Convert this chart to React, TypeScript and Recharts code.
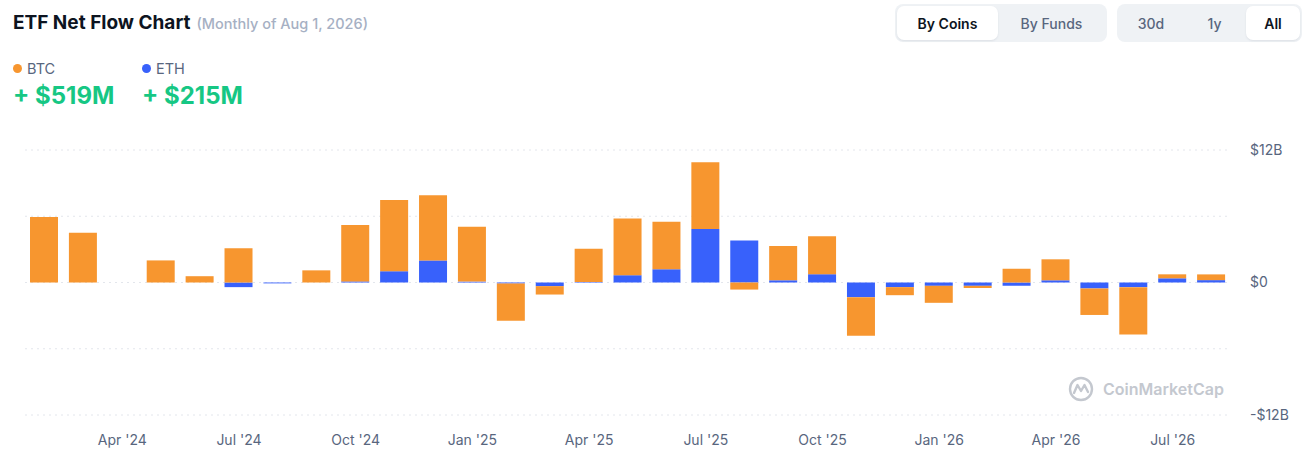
import React from "react";
import { BarChart, Bar, XAxis, YAxis, CartesianGrid } from "recharts";

// Monthly net flows, in billions of USD
const months = [
  "Feb '24", "Mar '24", "Apr '24", "May '24", "Jun '24", "Jul '24", "Aug '24", "Sep '24",
  "Oct '24", "Nov '24", "Dec '24", "Jan '25", "Feb '25", "Mar '25", "Apr '25", "May '25",
  "Jun '25", "Jul '25", "Aug '25", "Sep '25", "Oct '25", "Nov '25", "Dec '25", "Jan '26",
  "Feb '26", "Mar '26", "Apr '26", "May '26", "Jun '26", "Jul '26", "Aug '26",
];

const btcFlows = [
  5.93, 4.5, 0, 2.0, 0.57, 3.1, 0, 1.1,
  5.1, 6.46, 5.9, 4.96, -3.38, -0.76, 3.0, 5.14,
  4.3, 6.05, -0.64, 3.1, 3.45, -3.5, -0.73, -1.54,
  -0.2, 1.24, 1.9, -2.4, -4.3, 0.36, 0.519,
];

const ethFlows = [
  0, 0, 0, 0, 0, -0.42, -0.08, 0,
  0.1, 1.02, 2.0, 0.08, -0.08, -0.33, 0.05, 0.66,
  1.2, 4.85, 3.8, 0.2, 0.75, -1.33, -0.42, -0.3,
  -0.3, -0.3, 0.2, -0.54, -0.42, 0.38, 0.215,
];

const xTicks = ["Apr '24", "Jul '24", "Oct '24", "Jan '25", "Apr '25", "Jul '25", "Oct '25", "Jan '26", "Apr '26", "Jul '26"];
const yTicks = [-12, -6, 0, 6, 12];

const BTC_COLOR = "#F7962F";
const ETH_COLOR = "#3861FB";
const GREEN = "#16C784";
const GRAY = "#58667E";

const data = months.map((m, i) => ({ month: m, btc: btcFlows[i], eth: ethFlows[i] }));

const formatY = (v: number) => {
  if (v === 12) return "$12B";
  if (v === -12) return "-$12B";
  if (v === 0) return "$0";
  return "";
};

const Toggle = ({ items, active, left, width }: { items: { label: string; w: number }[]; active: number; left: number; width: number }) => (
  <div
    style={{
      position: "absolute",
      left,
      top: 4,
      width,
      height: 38,
      background: "#EFF2F5",
      borderRadius: 8,
      display: "flex",
      alignItems: "center",
      padding: "0 2px",
      boxSizing: "border-box",
    }}
  >
    {items.map((it, i) => (
      <div
        key={it.label}
        style={{
          width: it.w,
          height: 34,
          borderRadius: 7,
          background: i === active ? "#fff" : "transparent",
          boxShadow: i === active ? "0 1px 2px rgba(88,102,126,0.12)" : "none",
          display: "flex",
          alignItems: "center",
          justifyContent: "center",
          fontSize: 14,
          fontWeight: i === active ? 600 : 500,
          color: i === active ? "#0D1421" : GRAY,
        }}
      >
        {it.label}
      </div>
    ))}
  </div>
);

export default function App() {
  return (
    <div
      style={{
        position: "absolute",
        left: 0,
        top: 0,
        width: 1312,
        height: 464,
        background: "#fff",
        fontFamily: "Inter, 'Noto Sans', sans-serif",
        overflow: "hidden",
      }}
    >
      <BarChart
        width={1312}
        height={464}
        data={data}
        stackOffset="sign"
        barSize={28}
        margin={{ top: 150, right: 11, bottom: 9, left: 25 }}
      >
        <CartesianGrid vertical={false} stroke="#E3E6EC" strokeDasharray="2 4" />
        <XAxis
          dataKey="month"
          ticks={xTicks}
          axisLine={false}
          tickLine={false}
          height={40}
          tickMargin={14}
          tick={{ fill: GRAY, fontSize: 14 }}
        />
        <YAxis
          orientation="right"
          domain={[-12, 12]}
          ticks={yTicks}
          tickFormatter={formatY}
          axisLine={false}
          tickLine={false}
          width={70}
          tickMargin={13}
          tick={{ fill: GRAY, fontSize: 14, textAnchor: "start" }}
        />
        <Bar dataKey="eth" stackId="a" fill={ETH_COLOR} isAnimationActive={false} />
        <Bar dataKey="btc" stackId="a" fill={BTC_COLOR} isAnimationActive={false} />
      </BarChart>

      {/* header */}
      <div style={{ position: "absolute", left: 13, top: 10, display: "flex", alignItems: "baseline", whiteSpace: "nowrap" }}>
        <span style={{ fontSize: 19, fontWeight: 700, color: "#0D1421", lineHeight: "26px" }}>ETF Net Flow Chart</span>
        <span style={{ fontSize: 14.5, fontWeight: 500, color: "#A6B0C3", marginLeft: 6 }}>(Monthly of Aug 1, 2026)</span>
      </div>

      <div style={{ position: "absolute", left: 13, top: 58, display: "flex", gap: 0 }}>
        <div style={{ width: 129 }}>
          <div style={{ display: "flex", alignItems: "center", fontSize: 14.5, color: GRAY, height: 20 }}>
            <span style={{ width: 9, height: 9, borderRadius: "50%", background: BTC_COLOR, marginRight: 5 }} />
            BTC
          </div>
          <div style={{ fontSize: 24, fontWeight: 700, color: GREEN, marginTop: 3 }}>+ $519M</div>
        </div>
        <div>
          <div style={{ display: "flex", alignItems: "center", fontSize: 14.5, color: GRAY, height: 20 }}>
            <span style={{ width: 9, height: 9, borderRadius: "50%", background: ETH_COLOR, marginRight: 5 }} />
            ETH
          </div>
          <div style={{ fontSize: 24, fontWeight: 700, color: GREEN, marginTop: 3 }}>+ $215M</div>
        </div>
      </div>

      <Toggle
        left={895}
        width={212}
        active={0}
        items={[
          { label: "By Coins", w: 101 },
          { label: "By Funds", w: 107 },
        ]}
      />
      <Toggle
        left={1117}
        width={185}
        active={2}
        items={[
          { label: "30d", w: 64 },
          { label: "1y", w: 63 },
          { label: "All", w: 54 },
        ]}
      />

      {/* watermark */}
      <div style={{ position: "absolute", left: 1068, top: 376, display: "flex", alignItems: "center", color: "#C4C8CF" }}>
        <svg width={26} height={26} viewBox="0 0 26 26">
          <circle cx={13} cy={13} r={11} fill="none" stroke="#C4C8CF" strokeWidth={2.4} />
          <path d="M6 17 L9.5 9 L13 15 L16.5 9 L20 16" fill="none" stroke="#C4C8CF" strokeWidth={2.4} strokeLinejoin="round" strokeLinecap="round" />
        </svg>
        <span style={{ fontSize: 16, fontWeight: 600, marginLeft: 9 }}>CoinMarketCap</span>
      </div>
    </div>
  );
}
